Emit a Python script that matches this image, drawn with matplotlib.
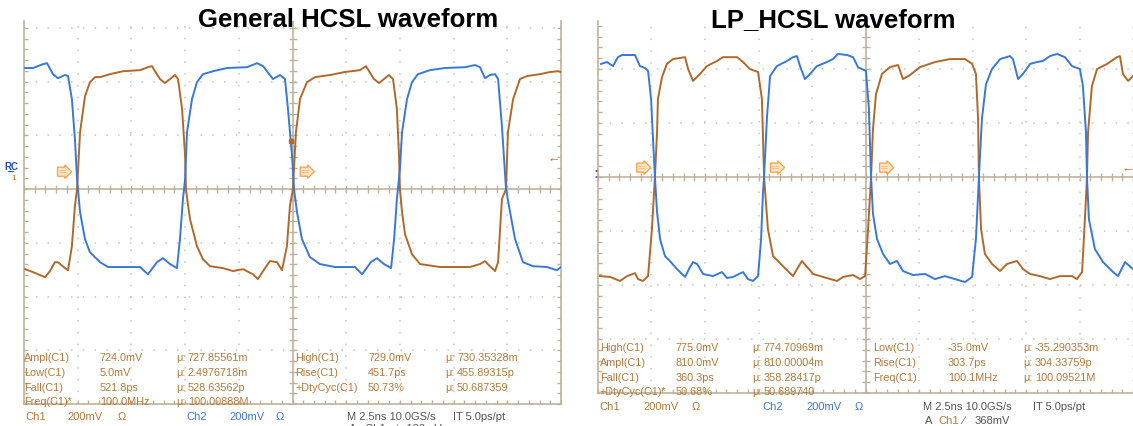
import numpy as np
import matplotlib.pyplot as plt

# ---- General HCSL shot: time in ns, voltage in mV (200mV/div, 2.5ns/div)
gen_blue_t = [0.05, 0.42, 0.88, 1.07, 1.35, 1.58, 1.91, 2.05, 2.23, 2.37, 2.47, 2.51, 2.61, 2.84, 3.07, 3.54, 3.91,
              5.40, 5.77, 6.19, 6.47, 6.80, 7.12, 7.26, 7.40, 7.50, 7.59, 7.82, 8.05, 8.33, 8.80, 9.45, 10.38,
              10.85, 11.13, 11.59, 11.92, 12.15, 12.29, 12.48, 12.57, 12.71, 12.94, 13.31, 13.78, 14.48, 15.41,
              15.74, 16.15, 16.43, 16.76, 17.09, 17.23, 17.36, 17.50, 17.60, 17.83, 18.06, 18.34, 18.90, 19.60,
              20.53, 21.00, 21.23, 21.46, 21.69, 21.93, 22.07, 22.25, 22.39, 22.44, 22.63, 22.86, 23.23, 23.70,
              24.35, 24.81, 25.00]
gen_blue_v = [451, 451, 465, 469, 428, 413, 425, 421, 335, 186, 37, 0, -86, -186, -235, -272, -290,
              -290, -317, -272, -257, -279, -294, -186, -37, 37, 212, 335, 398, 428, 439, 451, 454,
              469, 458, 410, 425, 410, 298, 123, 0, -86, -186, -253, -279, -290, -290,
              -317, -272, -257, -279, -294, -186, -37, 74, 212, 335, 398, 428, 443, 451,
              454, 462, 454, 413, 425, 428, 410, 235, 63, 0, -86, -186, -272, -287,
              -290, -302, -290]
gen_brown_t = [0.05, 0.42, 0.98, 1.21, 1.44, 1.58, 1.91, 2.05, 2.23, 2.37, 2.47, 2.61, 2.84, 3.07, 3.31, 3.54,
               4.00, 4.61, 5.40, 5.77, 5.96, 6.10, 6.33, 6.56, 6.80, 7.03, 7.17, 7.36, 7.50, 7.54, 7.63, 7.73,
               8.05, 8.33, 8.66, 9.26, 9.73, 10.20, 10.66, 10.89, 11.13, 11.45, 11.78, 12.01, 12.24, 12.38,
               12.52, 12.66, 12.85, 13.17, 13.55, 14.25, 14.94, 15.64, 15.92, 16.29, 16.53, 16.76, 16.99, 17.18,
               17.36, 17.46, 17.50, 17.60, 17.74, 18.06, 18.44, 19.37, 20.76, 21.23, 21.46, 21.69, 21.93, 22.07,
               22.25, 22.44, 22.53, 22.77, 23.09, 23.42, 24.02, 24.49, 24.86, 25.00]
gen_brown_v = [-298, -309, -328, -305, -272, -272, -294, -302, -212, -63, 0, 212, 346, 398, 417, 417,
               428, 439, 443, 454, 458, 439, 410, 395, 410, 425, 410, 298, 123, 0, -56, -112,
               -212, -261, -287, -294, -305, -298, -317, -335, -305, -268, -272, -302, -212, -63,
               0, 212, 335, 398, 417, 425, 436, 443, 458, 410, 395, 410, 425, 410,
               298, 123, 0, -86, -168, -242, -279, -290, -290, -279, -268, -287, -305, -272,
               -37, 0, 212, 335, 410, 421, 428, 436, 439, 436]

# ---- LP_HCSL shot
lp_blue_t = [0.14, 0.42, 0.70, 0.93, 1.12, 1.73, 1.96, 2.20, 2.34, 2.48, 2.57, 2.66, 2.76, 2.90, 3.13, 3.36,
             3.69, 4.07, 4.30, 4.44, 4.63, 4.91, 5.37, 5.79, 6.03, 6.31, 6.78, 7.01, 7.24, 7.48, 7.62, 7.71,
             7.76, 7.80, 7.90, 8.04, 8.36, 8.83, 9.11, 9.30, 9.44, 9.67, 9.91, 10.23, 10.70, 10.98, 11.21,
             11.64, 11.92, 12.15, 12.52, 12.66, 12.76, 12.85, 13.04, 13.32, 13.64, 13.97, 14.25, 14.72, 15.28,
             15.75, 16.21, 16.68, 17.15, 17.48, 17.66, 17.80, 17.94, 18.13, 18.41, 18.79, 19.25, 19.39, 19.63,
             19.86, 20.19, 20.51, 20.79, 21.12, 21.45, 21.82, 22.15, 22.52, 22.66, 22.80, 22.85, 22.94, 23.22,
             23.60, 24.07, 24.30, 24.63, 25.00]
lp_blue_v = [419, 426, 411, 444, 452, 452, 411, 404, 393, 289, 141, 0, -130, -230, -293, -311,
             -341, -370, -333, -315, -322, -359, -367, -352, -374, -370, -352, -378, -385, -367, -230, -56,
             0, 67, 226, 374, 411, 430, 444, 448, 411, 363, 382, 411, 426, 437, 456,
             452, 444, 407, 393, 252, 0, -137, -230, -285, -322, -311, -348, -363, -359,
             -378, -367, -378, -389, -370, -230, 0, 215, 344, 400, 437, 448, 437, 363,
             382, 419, 426, 430, 448, 456, 444, 411, 400, 337, 167, 0, -156, -267,
             -315, -352, -367, -315, -341]
lp_brown_t = [0.09, 0.56, 1.03, 1.36, 1.73, 1.87, 2.10, 2.34, 2.52, 2.66, 2.76, 2.80, 2.99, 3.22, 3.50, 4.07,
              4.21, 4.44, 4.77, 5.09, 5.56, 5.84, 6.50, 6.78, 7.10, 7.48, 7.66, 7.76, 7.80, 7.94, 8.18, 8.64,
              9.11, 9.30, 9.53, 9.77, 10.05, 10.51, 11.17, 11.45, 11.92, 12.24, 12.48, 12.62, 12.76, 12.85,
              12.99, 13.27, 13.64, 14.02, 14.25, 14.58, 15.05, 15.75, 16.45, 17.15, 17.48, 17.66, 17.76, 17.80,
              17.90, 18.08, 18.41, 18.79, 19.11, 19.58, 19.86, 20.19, 20.65, 21.12, 21.59, 22.15, 22.38, 22.62,
              22.76, 22.85, 22.90, 23.08, 23.32, 23.79, 24.25, 24.39, 24.53, 24.77, 25.00]
lp_brown_v = [-367, -370, -385, -367, -356, -378, -385, -367, -193, 0, 167, 289, 370, 419, 437, 444,
              400, 356, 382, 411, 430, 444, 444, 426, 400, 389, 289, 0, -44, -193, -293, -330,
              -367, -341, -311, -333, -359, -370, -385, -370, -363, -378, -367, -193, 0, 178,
              307, 382, 407, 415, 363, 378, 407, 426, 437, 437, 419, 382, 215, 0,
              -193, -285, -322, -348, -322, -311, -341, -359, -367, -378, -367, -367, -378, -352,
              -144, 0, 167, 337, 400, 419, 444, 448, 382, 356, 374]

gen_meas = [("Ampl(C1)", "724.0mV", "727.85561m"), ("Low(C1)", "5.0mV", "2.4976718m"),
            ("Fall(C1)", "521.8ps", "528.63562p"), ("Freq(C1)*", "100.0MHz", "100.00888M")]
gen_meas2 = [("High(C1)", "729.0mV", "730.35328m"), ("Rise(C1)", "451.7ps", "455.89315p"),
             ("+DtyCyc(C1)", "50.73%", "50.687359")]
lp_meas = [("High(C1)", "775.0mV", "774.70969m"), ("Ampl(C1)", "810.0mV", "810.00004m"),
           ("Fall(C1)", "360.3ps", "358.28417p"), ("+DtyCyc(C1)*", "50.68%", "50.689740")]
lp_meas2 = [("Low(C1)", "-35.0mV", "-35.290353m"), ("Rise(C1)", "303.7ps", "304.33759p"),
            ("Freq(C1)", "100.1MHz", "100.09521M")]

BLUE = "#3a78d6"
BROWN = "#b0692c"
TXT_BROWN = "#b27a3c"
TXT_BLUE = "#3f78cf"
FRAME = "#bdb39c"
GRID = "#cbc5b6"
ORANGE = "#f5a04a"

W, H = 1133, 427
plt.rcParams['font.family'] = ['Liberation Sans', 'DejaVu Sans']
fig = plt.figure(figsize=(W / 100, H / 100), dpi=100)
fig.patch.set_facecolor("white")


def px(x, y):
    return x / W, 1 - y / H


def scope_axes(l, t, r, b, ytop, show_right):
    ax = fig.add_axes([l / W, 1 - b / H, (r - l) / W, (b - t) / H])
    ax.set_xlim(0, 25)
    ax.set_ylim(-800, ytop)
    ax.set_xticks(np.arange(0, 25.01, 2.5))
    ax.set_yticks(np.arange(-800, ytop, 200))
    ax.set_xticks(np.arange(0, 25.01, 0.5), minor=True)
    ax.set_yticks(np.arange(-800, ytop, 40), minor=True)
    ax.grid(True, which='major', color=GRID, linestyle=(0, (1, 6.7)), lw=1.1)
    ax.tick_params(which='both', direction='in', length=3, color=FRAME, width=1,
                   labelbottom=False, labelleft=False, right=show_right, top=False)
    for s in ["left", "right", "bottom"]:
        ax.spines[s].set_color(FRAME)
        ax.spines[s].set_linewidth(1.2)
    ax.spines["top"].set_visible(False)
    ax.spines["right"].set_visible(show_right)
    # centre cross with fine ticks
    ax.axhline(0, color=FRAME, lw=1.2, zorder=1)
    ax.axvline(12.5, color=FRAME, lw=1.2, zorder=1)
    mx = np.arange(0, 25.01, 0.5)
    my = np.arange(-800, ytop, 40)
    ax.plot(mx, np.zeros_like(mx), ls='', marker='|', ms=6, mew=1, color=FRAME, zorder=1)
    ax.plot(np.full_like(my, 12.5, dtype=float), my, ls='', marker='_', ms=6, mew=1, color=FRAME, zorder=1)
    return ax


ax1 = scope_axes(24, 22, 561, 405, 626, True)
ax2 = scope_axes(598, 22, 1133, 394, 578, False)

for ax, bt, bv, rt, rv in [(ax1, gen_blue_t, gen_blue_v, gen_brown_t, gen_brown_v),
                           (ax2, lp_blue_t, lp_blue_v, lp_brown_t, lp_brown_v)]:
    ax.plot(rt, rv, color=BROWN, lw=1.4, zorder=3)
    ax.plot(bt, bv, color=BLUE, lw=1.4, zorder=4)

# trigger / reference markers
marker_box = dict(boxstyle="rarrow,pad=0.15", fc="#ffe4c4", ec=ORANGE, lw=0.9)
for ax, xs, yv in [(ax1, [1.8, 13.1], 65), (ax2, [2.05, 8.3, 13.4], 35)]:
    for x in xs:
        ax.text(x, yv, "==", color=ORANGE, fontsize=5, ha='center', va='center', bbox=marker_box, zorder=5)

fig.text(*px(4, 167), "R̲C", color="#1f4fb0", fontsize=7, fontweight='bold', va='center')
fig.text(*px(11, 179), "1", color=BROWN, fontsize=6, va='center')
fig.text(*px(547, 160), "\u2190", color=BROWN, fontsize=9, va='center')
fig.text(*px(1121, 170), "\u2190", color=BROWN, fontsize=9, va='center')
fig.text(*px(595, 172), "\u2022", color="#7a3fa0", fontsize=6, va='center')
fig.text(*px(595, 178), "\u2022", color="#2f6fd0", fontsize=6, va='center')
ax1.plot([12.45], [180], marker='s', ms=3, color=BROWN, zorder=5)

# titles
fig.text(*px(348, 20), "General HCSL waveform", fontsize=18.5, fontweight='bold', ha='center', va='center')
fig.text(*px(833, 20), "LP_HCSL waveform", fontsize=18.5, fontweight='bold', ha='center', va='center')

FS = 7.8


def meas_block(rows, x0, y0, dy, cols):
    for i, (name, val, mu) in enumerate(rows):
        y = y0 + i * dy
        fig.text(*px(x0, y), name, color=TXT_BROWN, fontsize=FS, va='center')
        fig.text(*px(x0 + cols[0], y), val, color=TXT_BROWN, fontsize=FS, va='center')
        fig.text(*px(x0 + cols[1], y), "\u03bc:", color=TXT_BROWN, fontsize=FS, va='center')
        fig.text(*px(x0 + cols[2], y), mu, color=TXT_BROWN, fontsize=FS, va='center')


meas_block(gen_meas, 24, 358, 14.8, (76, 152, 164))
meas_block(gen_meas2, 295, 358, 14.8, (73, 150, 162))
meas_block(lp_meas, 600, 348, 14.8, (76, 152, 164))
meas_block(lp_meas2, 873, 348, 14.8, (75, 150, 162))

# channel / timebase status lines
SFS = 8
for y, xs in [(417, (25, 67, 118, 186, 229, 276, 347, 453)), (407, (599, 643, 692, 762, 806, 855, 923, 1033))]:
    fig.text(*px(xs[0], y), "Ch1", color=TXT_BROWN, fontsize=SFS, va='center')
    fig.text(*px(xs[1], y), "200mV", color=TXT_BROWN, fontsize=SFS, va='center')
    fig.text(*px(xs[2], y), "\u03a9", color=TXT_BROWN, fontsize=SFS, va='center')
    fig.text(*px(xs[3], y), "Ch2", color=TXT_BLUE, fontsize=SFS, va='center')
    fig.text(*px(xs[4], y), "200mV", color=TXT_BLUE, fontsize=SFS, va='center')
    fig.text(*px(xs[5], y), "\u03a9", color=TXT_BLUE, fontsize=SFS, va='center')
    fig.text(*px(xs[6], y), "M 2.5ns 10.0GS/s", color="#555555", fontsize=SFS, va='center')
    fig.text(*px(xs[7], y), "IT 5.0ps/pt", color="#555555", fontsize=SFS, va='center')

fig.text(*px(925, 421), "A", color="#555555", fontsize=SFS, va='center')
fig.text(*px(938, 421), "Ch1", color=TXT_BROWN, fontsize=SFS, va='center')
fig.text(*px(962, 421), "\u2215", color="#555555", fontsize=SFS, va='center')
fig.text(*px(975, 421), "368mV", color="#555555", fontsize=SFS, va='center')
fig.text(*px(349, 429), "A   Ch1   \u2215   132mV", color="#555555", fontsize=SFS, va='center')

fig.savefig("out.png", dpi=100, facecolor="white")
